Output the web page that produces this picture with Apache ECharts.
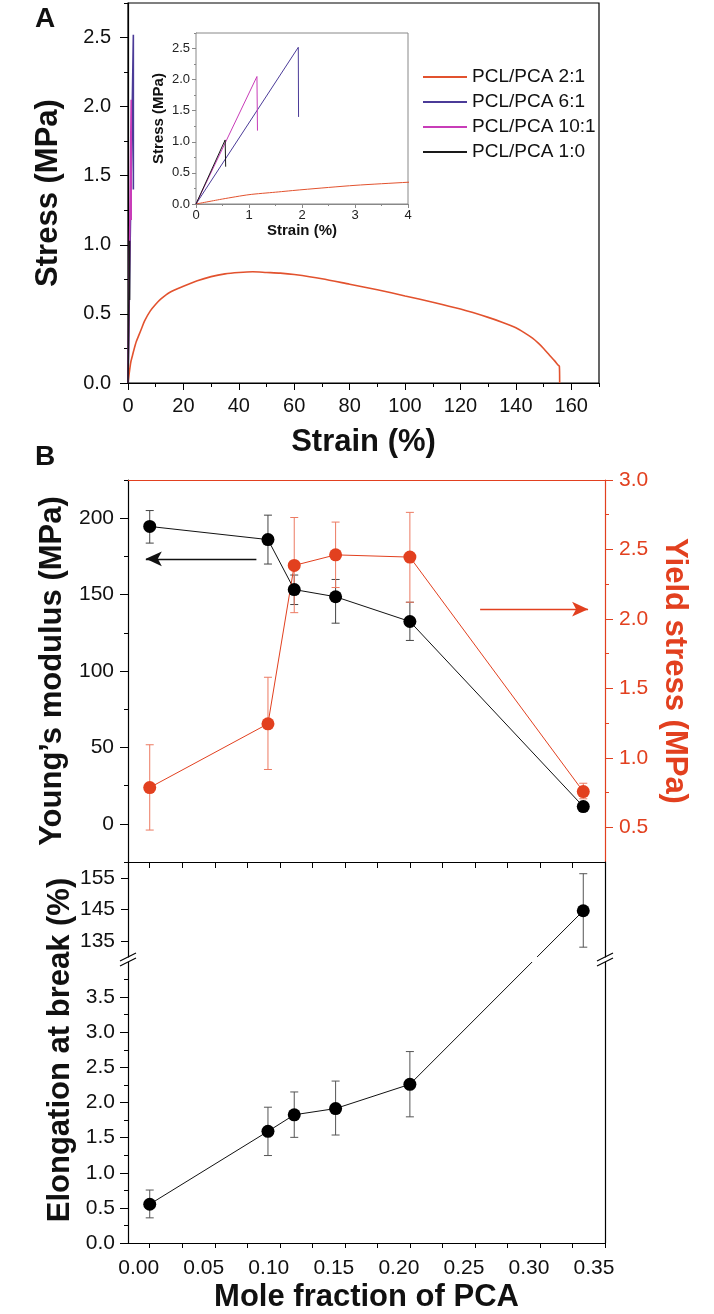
<!DOCTYPE html>
<html><head><meta charset="utf-8">
<script src="https://cdn.jsdelivr.net/npm/echarts@6/dist/echarts.min.js"></script>
<style>html,body{margin:0;padding:0;background:#fff}#chart{width:714px;height:1314px}</style>
</head><body><div id="chart"></div>
<script>
// ---------------- DATA ----------------
// Panel A: stress-strain curves (strain %, stress MPa)
const strain_2_1 = [0,0.5,1,1.5,2,3,4,5,6,8,10,12,15,20,25,30,35,40,45,50,55,60,70,80,90,100,110,120,130,135,140,143,146,148,150,152,154,155.2,155.7,155.8];
const stress_2_1 = [0,0.08,0.15,0.19,0.23,0.30,0.35,0.40,0.45,0.52,0.57,0.61,0.655,0.70,0.74,0.77,0.79,0.80,0.805,0.80,0.795,0.785,0.755,0.715,0.675,0.63,0.585,0.535,0.475,0.44,0.40,0.365,0.325,0.29,0.25,0.205,0.16,0.13,0.12,0];
const strain_6_1 = [0, 1.93, 1.935];
const stress_6_1 = [0, 2.52, 1.40];
const strain_10_1 = [0, 1.15, 1.16];
const stress_10_1 = [0, 2.05, 1.18];
const strain_1_0 = [0, 0.55, 0.56];
const stress_1_0 = [0, 1.03, 0.60];
const legendNames = ['PCL/PCA 2:1', 'PCL/PCA 6:1', 'PCL/PCA 10:1', 'PCL/PCA 1:0'];

// Panel B
const moleFraction = [0, 0.0909, 0.1111, 0.1429, 0.2000, 0.3333];
const youngs     = [194.6, 186.0, 153.3, 148.6, 132.4, 11.3];
const youngsLow  = [183.7, 170.0, 143.5, 131.3, 120.0, 8.5];
const youngsHigh = [205.0, 202.0, 162.8, 159.9, 145.0, 14.0];
const yieldStress = [0.786, 1.245, 2.385, 2.461, 2.445, 0.757];
const yieldLow    = [0.48, 0.916, 2.045, 2.226, 2.12, 0.705];
const yieldHigh   = [1.094, 1.58, 2.73, 2.697, 2.767, 0.817];
const elongation = [0.552, 1.589, 1.825, 1.914, 2.259, 144.6];
const elongLow   = [0.358, 1.245, 1.504, 1.537, 1.796, 133.1];
const elongHigh  = [0.754, 1.933, 2.15, 2.305, 2.725, 156.3];

// Tick values
const strainTicksA = [0,20,40,60,80,100,120,140,160];
const strainMinorA = [10,30,50,70,90,110,130,150,170];
const stressTicksA = [0,0.5,1.0,1.5,2.0,2.5];
const stressMinorA = [0.25,0.75,1.25,1.75,2.25,2.75];
const insetStrainTicks = [0,1,2,3,4];
const insetStrainMinor = [0.5,1.5,2.5,3.5];
const youngsTicks = [0,50,100,150,200];
const youngsMinor = [-25,25,75,125,175,225];
const yieldTicks = [0.5,1.0,1.5,2.0,2.5,3.0];
const yieldMinor = [0.75,1.25,1.75,2.25,2.75];
const elongUpperTicks = [135,145,155];
const elongLowerTicks = [0,0.5,1.0,1.5,2.0,2.5,3.0,3.5];
const elongLowerMinor = [0.25,0.75,1.25,1.75,2.25,2.75,3.25,3.75];
const moleTicks = [0,0.05,0.10,0.15,0.20,0.25,0.30,0.35];
const moleMinor = [0,0.025,0.05,0.075,0.10,0.125,0.15,0.175,0.20,0.225,0.25,0.275,0.30,0.325,0.35];

// Annotation arrows (data coordinates)
const arrowYoungs = [[0.082, 173.4], [-0.003, 173.4]];
const arrowYield = [[0.254, 2.07], [0.337, 2.07]];

// ---------------- STYLE ----------------
const FONT = "'Liberation Sans', Arial, Helvetica, sans-serif";
const C21 = '#e2522e', C61 = '#4b3b98', C101 = '#c83cb8', C10 = '#1a1a1a';
const RED = '#e2401f';

function axis(o) {
  const color = o.color || '#000';
  const a = {
    type: 'value', gridIndex: o.grid, position: o.pos, min: o.min, max: o.max, offset: 0,
    axisLine: { show: o.line !== false, onZero: false, lineStyle: { color: color, width: o.lw || 1.2 } },
    axisTick: { show: !!o.ticks, length: o.tickLen || 6, inside: !!o.inside, lineStyle: { color: color, width: 1 } },
    axisLabel: { show: !!o.labels, fontFamily: FONT, fontSize: o.fs || 20, color: o.labelColor || '#111', margin: o.margin == null ? 12 : o.margin },
    splitLine: { show: false }, splitArea: { show: false }
  };
  if (o.ticks) a.axisTick.customValues = o.ticks;
  if (o.labels) { a.axisLabel.customValues = o.labels; a.axisLabel.formatter = o.fmt; }
  if (o.pad) a.axisLabel.padding = o.pad;
  if (o.name) {
    a.name = o.name; a.nameLocation = 'middle'; a.nameGap = o.nameGap;
    if (o.nameRotate != null) a.nameRotate = o.nameRotate;
    a.nameTextStyle = { fontFamily: FONT, fontWeight: 'bold', fontSize: o.nameSize || 31, color: o.nameColor || '#111' };
  }
  return a;
}
const f1 = v => Number(v).toFixed(1);
const f2 = v => Number(v).toFixed(2);
const f0 = v => String(Math.round(v));

// X axes
const MOLE_MIN = -0.0167, MOLE_MAX = 0.35;
const xAxes = [
  axis({grid:0, pos:'bottom', min:0, max:170, ticks:strainTicksA, labels:strainTicksA, fmt:f0, tickLen:7, fs:20, margin:13, name:'Strain (%)', nameGap:44}),
  axis({grid:0, pos:'bottom', min:0, max:170, ticks:strainMinorA, tickLen:4, line:false}),
  axis({grid:1, pos:'bottom', min:0, max:4, ticks:insetStrainTicks, labels:insetStrainTicks, fmt:f0, tickLen:4, fs:13, margin:5, color:'#888', labelColor:'#222', lw:1, name:'Strain (%)', nameGap:15, nameSize:15}),
  axis({grid:1, pos:'bottom', min:0, max:4, ticks:insetStrainMinor, tickLen:2, line:false, color:'#888'}),
  axis({grid:2, pos:'bottom', min:MOLE_MIN, max:MOLE_MAX}),
  axis({grid:2, pos:'top', min:MOLE_MIN, max:MOLE_MAX, color:RED}),
  axis({grid:3, pos:'top', min:MOLE_MIN, max:MOLE_MAX, ticks:moleMinor, tickLen:6, inside:true}),
  axis({grid:4, pos:'bottom', min:MOLE_MIN, max:MOLE_MAX, ticks:moleMinor, labels:moleTicks, fmt:f2, tickLen:5, fs:21, margin:15, pad:[0,22,0,0], name:'Mole fraction of PCA', nameGap:39})
];
// Y axes
const yAxes = [
  axis({grid:0, pos:'left', min:0, max:2.75, ticks:stressTicksA, labels:stressTicksA, fmt:f1, tickLen:8, fs:20, margin:17, name:'Stress (MPa)', nameGap:64}),
  axis({grid:0, pos:'left', min:0, max:2.75, ticks:stressMinorA, tickLen:4, line:false}),
  axis({grid:1, pos:'left', min:0, max:2.75, ticks:stressTicksA, labels:stressTicksA, fmt:f1, tickLen:4, fs:13, margin:6, color:'#888', labelColor:'#222', lw:1, name:'Stress (MPa)', nameGap:30, nameSize:15}),
  axis({grid:1, pos:'left', min:0, max:2.75, ticks:stressMinorA, tickLen:2, line:false, color:'#888'}),
  axis({grid:2, pos:'left', min:-25, max:225, ticks:youngsTicks, labels:youngsTicks, fmt:f0, tickLen:8, fs:21, margin:14, name:"Young’s modulus (MPa)", nameGap:52}),
  axis({grid:2, pos:'left', min:-25, max:225, ticks:youngsMinor, tickLen:4, line:false}),
  axis({grid:2, pos:'right', min:0.25, max:3.0, ticks:yieldTicks, labels:yieldTicks, fmt:f1, tickLen:8, fs:21, margin:14, color:RED, labelColor:RED, name:'Yield stress (MPa)', nameGap:46, nameRotate:-90, nameColor:RED}),
  axis({grid:2, pos:'right', min:0.25, max:3.0, ticks:yieldMinor, tickLen:4, line:false, color:RED}),
  axis({grid:3, pos:'left', min:130, max:160, ticks:elongUpperTicks, labels:elongUpperTicks, fmt:f0, tickLen:7, fs:21, margin:13}),
  axis({grid:3, pos:'right', min:130, max:160}),
  axis({grid:4, pos:'left', min:0, max:4, ticks:elongLowerTicks, labels:elongLowerTicks, fmt:f1, tickLen:8, fs:21, margin:13}),
  axis({grid:4, pos:'left', min:0, max:4, ticks:elongLowerMinor, tickLen:4, line:false}),
  axis({grid:4, pos:'right', min:0, max:4})
];

const grids = [
  {left:128, top:3, width:471, height:380, show:true, borderColor:'#000', borderWidth:1.2, containLabel:false},
  {left:196, top:33, width:212, height:171, show:true, borderColor:'#888', borderWidth:1, backgroundColor:'#fff', containLabel:false, z:3},
  {left:128, top:480, width:477, height:382, containLabel:false},
  {left:128, top:862, width:477, height:95, containLabel:false},
  {left:128, top:962, width:477, height:283, containLabel:false}
];

const pairs = (xs, ys) => xs.map((x, i) => [x, ys[i]]);
function curve(name, xs, ys, color, xi, yi, w, z, smooth) {
  return {name, type:'line', xAxisIndex:xi, yAxisIndex:yi, data:pairs(xs, ys), showSymbol:false, symbol:'none',
    color, lineStyle:{color, width:w}, itemStyle:{color}, smooth: smooth || false,
    animation:false, z, clip:true, silent:true};
}
function errorBar(color, capHalf, lw) {
  return function (params, api) {
    const x = api.value(0);
    const lo = api.coord([x, api.value(1)]);
    const hi = api.coord([x, api.value(2)]);
    const style = {stroke: color, lineWidth: lw};
    return {type:'group', children:[
      {type:'line', shape:{x1:lo[0], y1:lo[1], x2:hi[0], y2:hi[1]}, style},
      {type:'line', shape:{x1:lo[0]-capHalf, y1:lo[1], x2:lo[0]+capHalf, y2:lo[1]}, style},
      {type:'line', shape:{x1:hi[0]-capHalf, y1:hi[1], x2:hi[0]+capHalf, y2:hi[1]}, style}
    ]};
  };
}
function errSeries(xi, yi, data, color) {
  return {type:'custom', xAxisIndex:xi, yAxisIndex:yi, renderItem:errorBar(color, 4, 1), data, encode:{x:0, y:[1,2]}, z:1, silent:true, animation:false};
}

const series = [];
// Main panel A
series.push(curve(legendNames[0], strain_2_1, stress_2_1, C21, 0, 0, 1.6, 2, 0.25));
series.push(curve(legendNames[1], strain_6_1, stress_6_1, C61, 0, 0, 1.6, 3));
series.push(curve(legendNames[2], strain_10_1, stress_10_1, C101, 0, 0, 1.6, 4));
series.push(curve(legendNames[3], strain_1_0, stress_1_0, C10, 0, 0, 1.6, 5));
// Inset
series.push(curve(legendNames[0], strain_2_1, stress_2_1, C21, 2, 2, 1, 6, 0.25));
series.push(curve(legendNames[1], strain_6_1, stress_6_1, C61, 2, 2, 1, 6));
series.push(curve(legendNames[2], strain_10_1, stress_10_1, C101, 2, 2, 1, 6));
series.push(curve(legendNames[3], strain_1_0, stress_1_0, C10, 2, 2, 1, 6));

// Panel B top: Young's modulus & yield stress
series.push(errSeries(4, 4, moleFraction.map((x, i) => [x, youngsLow[i], youngsHigh[i]]), '#444'));
series.push({type:'line', xAxisIndex:4, yAxisIndex:4, data:pairs(moleFraction, youngs), symbol:'circle', symbolSize:13,
  lineStyle:{color:'#111', width:1}, itemStyle:{color:'#000'}, z:4, animation:false, silent:true,
  markLine:{silent:true, symbol:['none','arrow'], symbolSize:[11,16], label:{show:false}, animation:false,
    lineStyle:{color:'#111', width:1.3, type:'solid'},
    data:[[{coord:arrowYoungs[0]}, {coord:arrowYoungs[1]}]]}});
series.push(errSeries(4, 6, moleFraction.map((x, i) => [x, yieldLow[i], yieldHigh[i]]), '#ec7a62'));
series.push({type:'line', xAxisIndex:4, yAxisIndex:6, data:pairs(moleFraction, yieldStress), symbol:'circle', symbolSize:13,
  lineStyle:{color:RED, width:1}, itemStyle:{color:RED}, z:4, animation:false, silent:true,
  markLine:{silent:true, symbol:['none','arrow'], symbolSize:[11,16], label:{show:false}, animation:false,
    lineStyle:{color:RED, width:1.3, type:'solid'},
    data:[[{coord:arrowYield[0]}, {coord:arrowYield[1]}]]}});

// Panel B bottom: elongation at break (broken axis)
const lowIdx = [], upIdx = [];
elongation.forEach((v, i) => (v < 50 ? lowIdx : upIdx).push(i));
series.push(errSeries(7, 10, lowIdx.map(i => [moleFraction[i], elongLow[i], elongHigh[i]]), '#555'));
series.push({type:'line', xAxisIndex:7, yAxisIndex:10, data:lowIdx.map(i => [moleFraction[i], elongation[i]]), symbol:'circle', symbolSize:13,
  lineStyle:{color:'#111', width:1}, itemStyle:{color:'#000'}, z:4, animation:false, silent:true});
series.push(errSeries(6, 8, upIdx.map(i => [moleFraction[i], elongLow[i], elongHigh[i]]), '#555'));
series.push({type:'line', xAxisIndex:6, yAxisIndex:8, data:upIdx.map(i => [moleFraction[i], elongation[i]]), symbol:'circle', symbolSize:13,
  lineStyle:{color:'#111', width:1}, itemStyle:{color:'#000'}, z:4, animation:false, silent:true});

const chart = echarts.init(document.getElementById('chart'), null, {renderer:'canvas'});
chart.setOption({
  backgroundColor:'#fff',
  animation:false,
  textStyle:{fontFamily:FONT},
  grid:grids, xAxis:xAxes, yAxis:yAxes,
  legend:{data:legendNames, orient:'vertical', left:423, top:67, itemWidth:44, itemHeight:2, itemGap:5, icon:'rect', padding:0,
    textStyle:{fontFamily:FONT, fontSize:19, color:'#111', lineHeight:20}, selectedMode:false},
  series
});

// ----- extras: panel letters, broken-axis marks, connector across the break -----
const lastLow = lowIdx[lowIdx.length - 1], firstUp = upIdx[0];
const pLow = chart.convertToPixel({xAxisIndex:7, yAxisIndex:10}, [moleFraction[lastLow], elongation[lastLow]]);
const pUp = chart.convertToPixel({xAxisIndex:6, yAxisIndex:8}, [moleFraction[firstUp], elongation[firstUp]]);
const yLowTop = chart.convertToPixel({xAxisIndex:7, yAxisIndex:10}, [0, 4])[1];
const yUpBot = chart.convertToPixel({xAxisIndex:6, yAxisIndex:8}, [0, 130])[1];
const xAt = y => pLow[0] + (pUp[0] - pLow[0]) * (pLow[1] - y) / (pLow[1] - pUp[1]);
const xL = chart.convertToPixel({xAxisIndex:7, yAxisIndex:10}, [MOLE_MIN, 0])[0];
const xR = chart.convertToPixel({xAxisIndex:7, yAxisIndex:10}, [MOLE_MAX, 0])[0];
const lineStyle = {stroke:'#111', lineWidth:1};
const breakMarks = [];
[xL, xR].forEach(x => {
  [yUpBot, yLowTop].forEach(y => {
    breakMarks.push({type:'line', z:10, shape:{x1:x-8, y1:y+4, x2:x+8, y2:y-4}, style:{stroke:'#000', lineWidth:1.2}});
  });
});
chart.setOption({
  graphic:{elements:[
    {type:'text', left:35, top:5, z:10, style:{text:'A', font:"bold 28px 'Liberation Sans', Arial", fill:'#111'}},
    {type:'text', left:35, top:443, z:10, style:{text:'B', font:"bold 28px 'Liberation Sans', Arial", fill:'#111'}},
    {type:'text', x:60, y:1050, rotation:Math.PI/2, z:10,
      style:{text:'Elongation at break (%)', font:"bold 31px 'Liberation Sans', Arial", fill:'#111', align:'center', verticalAlign:'middle'}},
    {type:'line', z:1, shape:{x1:pLow[0], y1:pLow[1], x2:xAt(yLowTop), y2:yLowTop}, style:lineStyle},
    {type:'line', z:1, shape:{x1:xAt(yUpBot), y1:yUpBot, x2:pUp[0], y2:pUp[1]}, style:lineStyle}
  ].concat(breakMarks)}
});
</script></body></html>
